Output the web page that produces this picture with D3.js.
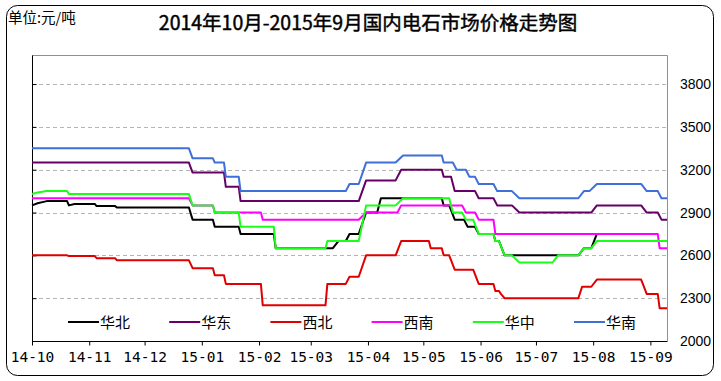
<!DOCTYPE html>
<html><head><meta charset="utf-8">
<script src="https://cdn.jsdelivr.net/npm/d3@7/dist/d3.min.js"></script>
<style>body{margin:0;background:#fff}svg{display:block}</style>
</head><body><svg id="c" width="721" height="381"></svg>
<script>
const titleText = "2014年10月-2015年9月国内电石市场价格走势图";
const unitText = "单位:元/吨";
const seriesNames = ["华北","华东","西北","西南","华中","华南"];
const seriesColors = ["#000000","#660066","#e00000","#ff00ff","#1aff1a","#3f6fd9"];
const yTicks = [2000,2300,2600,2900,3200,3500,3800];
const yDomain = [2000,4000];
const xDomain = ["2014-10-01","2015-09-10"];
const xTickDates = ["2014-10-01","2014-11-01","2014-12-01","2015-01-01","2015-02-01","2015-03-01","2015-04-01","2015-05-01","2015-06-01","2015-07-01","2015-08-01","2015-09-01"];
const xTickLabels = ["14-10","14-11","14-12","15-01","15-02","15-03","15-04","15-05","15-06","15-07","15-08","15-09"];

const huabei = [["2014-10-01",2950],["2014-10-04",2965],["2014-10-09",2980],["2014-10-20",2980],["2014-10-21",2950],["2014-10-24",2960],["2014-11-04",2960],["2014-11-05",2945],["2014-11-15",2945],["2014-11-16",2935],["2014-12-25",2935],["2014-12-27",2850],["2015-01-07",2850],["2015-01-08",2800],["2015-01-21",2800],["2015-01-22",2750],["2015-02-09",2750],["2015-02-10",2650],["2015-03-13",2650],["2015-03-16",2700],["2015-03-20",2700],["2015-03-22",2750],["2015-03-27",2750],["2015-03-31",2900],["2015-04-06",2900],["2015-04-08",3000],["2015-05-11",3000],["2015-05-12",2950],["2015-05-15",2950],["2015-05-18",2850],["2015-05-23",2850],["2015-05-25",2800],["2015-05-29",2800],["2015-05-31",2750],["2015-06-08",2750],["2015-06-09",2700],["2015-06-11",2700],["2015-06-14",2600],["2015-07-24",2600],["2015-07-27",2650],["2015-07-31",2650],["2015-08-03",2750]];
const huadong = [["2014-10-01",3250],["2014-12-25",3250],["2014-12-27",3180],["2015-01-13",3180],["2015-01-14",3080],["2015-01-21",3080],["2015-01-22",2980],["2015-03-27",2980],["2015-03-31",3125],["2015-04-16",3125],["2015-04-19",3200],["2015-05-11",3200],["2015-05-12",3150],["2015-05-16",3150],["2015-05-18",3050],["2015-05-29",3050],["2015-05-31",3000],["2015-06-08",3000],["2015-06-10",2950],["2015-06-18",2950],["2015-06-22",2900],["2015-07-31",2900],["2015-08-03",2950],["2015-08-27",2950],["2015-08-30",2900],["2015-09-05",2900],["2015-09-07",2850],["2015-09-10",2850]];
const xibei = [["2014-10-01",2600],["2014-10-20",2600],["2014-10-21",2595],["2014-11-04",2595],["2014-11-05",2580],["2014-11-15",2580],["2014-11-16",2565],["2014-12-25",2565],["2014-12-27",2510],["2015-01-07",2510],["2015-01-08",2460],["2015-01-13",2460],["2015-01-14",2400],["2015-02-02",2400],["2015-02-03",2250],["2015-03-09",2250],["2015-03-10",2400],["2015-03-20",2400],["2015-03-22",2450],["2015-03-27",2450],["2015-03-31",2600],["2015-04-16",2600],["2015-04-19",2700],["2015-05-04",2700],["2015-05-05",2650],["2015-05-11",2650],["2015-05-12",2600],["2015-05-15",2600],["2015-05-18",2500],["2015-05-28",2500],["2015-05-31",2400],["2015-06-08",2400],["2015-06-09",2350],["2015-06-11",2350],["2015-06-12",2330],["2015-06-14",2300],["2015-07-24",2300],["2015-07-26",2380],["2015-07-31",2380],["2015-08-03",2430],["2015-08-27",2430],["2015-08-30",2330],["2015-09-05",2330],["2015-09-06",2230],["2015-09-10",2230]];
const xinan = [["2014-10-01",3000],["2014-12-25",3000],["2014-12-27",2950],["2015-01-07",2950],["2015-01-08",2900],["2015-02-02",2900],["2015-02-03",2850],["2015-03-27",2850],["2015-03-31",2900],["2015-04-17",2900],["2015-04-19",2950],["2015-05-22",2950],["2015-05-24",2900],["2015-05-29",2900],["2015-05-31",2850],["2015-06-08",2850],["2015-06-09",2750],["2015-09-05",2750],["2015-09-06",2650],["2015-09-10",2650]];
const huazhong = [["2014-10-01",3030],["2014-10-04",3040],["2014-10-09",3050],["2014-10-20",3050],["2014-10-21",3030],["2014-12-25",3030],["2014-12-27",2950],["2015-01-07",2950],["2015-01-08",2900],["2015-01-21",2900],["2015-01-22",2800],["2015-02-09",2800],["2015-02-10",2650],["2015-03-09",2650],["2015-03-10",2700],["2015-03-27",2700],["2015-03-31",2950],["2015-04-16",2950],["2015-04-20",3000],["2015-05-15",3000],["2015-05-17",2900],["2015-05-22",2900],["2015-05-24",2850],["2015-05-28",2850],["2015-05-31",2750],["2015-06-08",2750],["2015-06-09",2700],["2015-06-11",2700],["2015-06-14",2600],["2015-06-18",2600],["2015-06-22",2550],["2015-07-10",2550],["2015-07-13",2600],["2015-07-24",2600],["2015-07-27",2650],["2015-07-31",2650],["2015-08-03",2700],["2015-09-10",2700]];
const huanan = [["2014-10-01",3350],["2014-12-25",3350],["2014-12-27",3280],["2015-01-07",3280],["2015-01-08",3250],["2015-01-13",3250],["2015-01-14",3150],["2015-01-21",3150],["2015-01-22",3050],["2015-03-20",3050],["2015-03-22",3100],["2015-03-27",3100],["2015-03-31",3250],["2015-04-16",3250],["2015-04-20",3300],["2015-05-11",3300],["2015-05-12",3250],["2015-05-17",3250],["2015-05-19",3200],["2015-05-24",3200],["2015-05-26",3150],["2015-05-29",3150],["2015-05-31",3100],["2015-06-08",3100],["2015-06-10",3050],["2015-06-18",3050],["2015-06-22",3000],["2015-07-24",3000],["2015-07-27",3050],["2015-07-30",3050],["2015-08-03",3100],["2015-08-27",3100],["2015-08-30",3050],["2015-09-05",3050],["2015-09-07",3000],["2015-09-10",3000]];
const seriesData = [huabei, huadong, xibei, xinan, huazhong, huanan];

const parse = d3.timeParse("%Y-%m-%d");
const svg = d3.select("#c");
const L = 32, R = 667, T = 55.5, B = 341;

// outer rounded border
svg.append("rect").attr("x",6.5).attr("y",5.5).attr("width",707).attr("height",370).attr("rx",11)
  .attr("fill","#fff").attr("stroke","#000").attr("stroke-width",1);

svg.append("text").attr("x",8).attr("y",23).attr("font-family","'Noto Sans CJK SC'").attr("font-size",14.5)
  .text(unitText);
svg.append("text").attr("x",368).attr("y",30).attr("text-anchor","middle")
  .attr("font-family","'Noto Sans CJK SC'").attr("font-size",19.5).attr("font-weight",400)
  .attr("stroke","#000").attr("stroke-width",0.45).text(titleText);

const x = d3.scaleTime().domain(xDomain.map(parse)).range([L,R]);
const y = d3.scaleLinear().domain(yDomain).range([B,T]);

// gridlines
svg.append("g").selectAll("line").data(yTicks.filter(v=>v>yDomain[0])).join("line")
  .attr("x1",L).attr("x2",R).attr("y1",d=>Math.round(y(d))+0.5).attr("y2",d=>Math.round(y(d))+0.5)
  .attr("stroke","#b4b4b4").attr("stroke-dasharray","4,3").attr("stroke-width",1);

// plot frame top/right (gray)
svg.append("path").attr("d",`M${L},${T}H${R+0.5}V${B}`).attr("fill","none").attr("stroke","#909090");

// right axis labels
const yAxisR = d3.axisRight(y).tickValues(yTicks).tickSize(0).tickPadding(0).tickFormat(d3.format("d"));
const gR = svg.append("g").attr("transform",`translate(${R+13},0)`).call(yAxisR);
gR.select(".domain").remove();
gR.selectAll("text").attr("font-family","'Liberation Sans', Arial").attr("font-size",14).attr("fill","#000");

// left axis: line with inward ticks
const yAxisL = d3.axisRight(y).tickValues(yTicks).tickSize(4).tickFormat("");
const gL = svg.append("g").attr("transform",`translate(${L+0.5},0)`).call(yAxisL);
gL.select(".domain").attr("d",`M0,${T}V${B}`).attr("stroke","#000");
gL.selectAll("line").attr("stroke","#000");

// bottom axis
const xAxis = d3.axisBottom(x).tickValues(xTickDates.map(parse)).tickSize(4).tickPadding(6)
  .tickFormat((d,i)=>xTickLabels[i]);
const gX = svg.append("g").attr("transform",`translate(0,${B+0.5})`).call(xAxis);
gX.select(".domain").attr("d",`M${L},0H${R+0.5}`).attr("stroke","#000");
gX.selectAll("line").attr("stroke","#000");
gX.selectAll("text").attr("font-family","'DejaVu Sans Mono', monospace").attr("font-size",14.5).attr("fill","#000");

// lines
const line = d3.line().x(d=>x(parse(d[0]))).y(d=>y(d[1]));
svg.append("g").selectAll("path").data(seriesData).join("path")
  .attr("d",d=>line(d)).attr("fill","none").attr("stroke",(d,i)=>seriesColors[i])
  .attr("stroke-width",2).attr("stroke-linejoin","round");

// legend
const lg = svg.append("g").selectAll("g").data(seriesNames).join("g")
  .attr("transform",(d,i)=>`translate(${68 + i*101.2},322)`);
lg.append("line").attr("x1",0).attr("x2",31).attr("y1",0).attr("y2",0)
  .attr("stroke",(d,i)=>seriesColors[i]).attr("stroke-width",2);
lg.append("text").attr("x",32).attr("y",6).attr("font-family","'Noto Sans CJK SC'").attr("font-size",15).text(d=>d);
</script></body></html>
